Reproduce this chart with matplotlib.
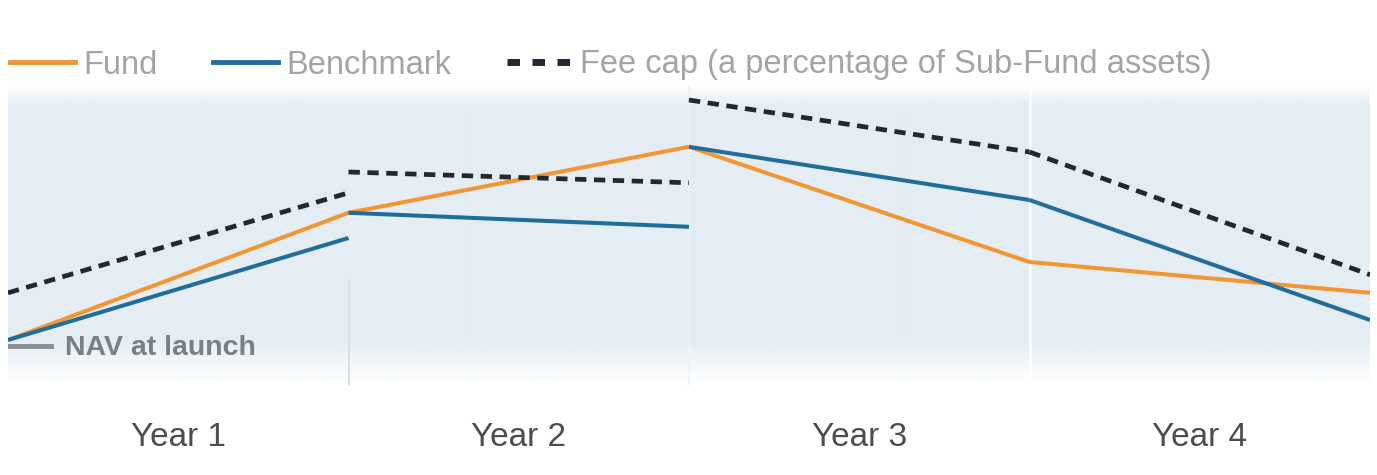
import matplotlib
matplotlib.use("Agg")
import matplotlib.pyplot as plt
import numpy as np
from matplotlib.colors import to_rgb

# Données du graphique (indice, VNI au lancement = 100)
years = ["Year 1", "Year 2", "Year 3", "Year 4"]
fund = [100.0, 131.8, 148.3, 119.5, 111.8]
benchmark_segments = [
    (100.0, 125.5),
    (131.8, 128.3),
    (148.3, 135.0),
    (135.0, 105.0),
]
fee_cap_segments = [
    (111.8, 136.8),
    (142.0, 139.3),
    (160.0, 147.0),
    (147.0, 116.3),
]
nav_launch = 98.5

plt.rcParams["font.family"] = ["Liberation Sans", "DejaVu Sans"]

c_fund = "#f39533"
c_bench = "#1f6d9c"
c_cap = "#222831"

fig = plt.figure(figsize=(13.77, 4.75), dpi=100)
ax = fig.add_axes([8 / 1377, 1 - 385 / 475, 1362 / 1377, 300 / 475])
ax.set_xlim(0, 4)
ax.set_ylim(88.75, 163.75)

# Fond dégradé bleu clair
n = 200
grad = np.ones((n, 1, 4))
grad[:, 0, :3] = to_rgb("#e5edf4")
t = np.linspace(0, 1, n)  # 0 = haut, 1 = bas
grad[:, 0, 3] = np.clip(t / 0.07, 0, 1) * np.clip((1 - t) / 0.15, 0, 1)
ax.imshow(grad, extent=[0, 4, 88.75, 163.75], aspect="auto", zorder=0)

# Séparateurs d'années
ax.axvline(1, ymax=0.35, color="#d9e1e8", lw=1.5, zorder=1)
ax.axvline(2, color="#edf2f7", lw=1.5, zorder=1)
ax.axvline(3, color="white", lw=2, zorder=1)

x = np.arange(len(fund))
ax.plot(x, fund, color=c_fund, lw=2.9, zorder=3, solid_capstyle="butt")
for i, (a, b) in enumerate(benchmark_segments):
    ax.plot([i, i + 1], [a, b], color=c_bench, lw=2.9, zorder=3,
            solid_capstyle="butt")
for i, (a, b) in enumerate(fee_cap_segments):
    ax.plot([i, i + 1], [a, b], color=c_cap, lw=3.4, zorder=4,
            dashes=(2.4, 1.6))

# VNI au lancement
ax.plot([0, 0.125], [nav_launch, nav_launch], color="#8a8f95", lw=3.5, zorder=2)
ax.text(0.167, nav_launch - 0.6, "NAV at launch", fontsize=20.5, fontweight="bold",
        color="#7a7f85", va="center", ha="left", zorder=5)

ax.set_xticks([0.5, 1.5, 2.5, 3.5])
ax.set_xticklabels(years, fontsize=24, color="#4d4d4d")
ax.tick_params(axis="x", length=0, pad=27)
ax.set_yticks([])
for s in ax.spines.values():
    s.set_visible(False)

# Légende
handles = [
    plt.Line2D([], [], color=c_fund, lw=3.5),
    plt.Line2D([], [], color=c_bench, lw=3.5),
    plt.Line2D([], [], color=c_cap, lw=5, dashes=(1.8, 1.8)),
]
labels = ["Fund", "Benchmark", "Fee cap (a percentage of Sub-Fund assets)"]
fig.legend(handles, labels, loc="center left",
           bbox_to_anchor=(10 / 1377, 1 - 65 / 475), ncol=3, frameon=False,
           fontsize=23.5, labelcolor="#a2a5a8", handlelength=2.0,
           handletextpad=0.25, columnspacing=1.69, borderpad=0, borderaxespad=0)

fig.savefig("out.png", dpi=100, facecolor="white")
